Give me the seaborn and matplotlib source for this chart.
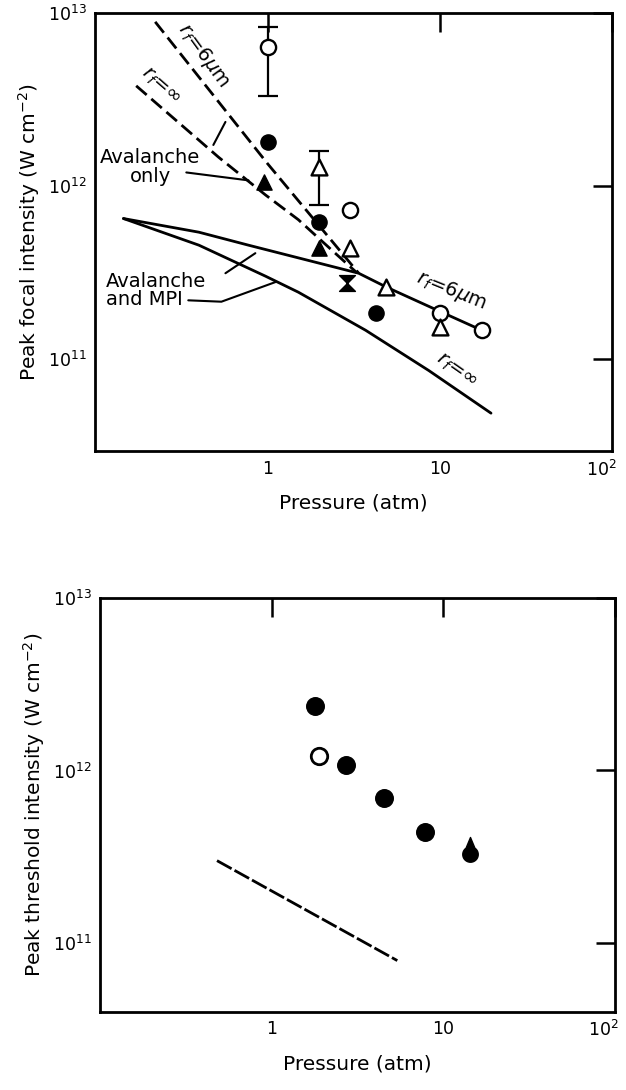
import numpy as np
import matplotlib
matplotlib.use("Agg")
import matplotlib.pyplot as plt
import matplotlib.transforms as mtransforms
import seaborn as sns
from matplotlib.path import Path
from matplotlib.ticker import NullLocator

# ---------------- data: top panel ----------------
open_circle_x = [1.0, 3.0, 10.0, 17.5]
open_circle_y = [6.4e12, 7.3e11, 1.85e11, 1.48e11]
filled_circle_x = [1.0, 2.0, 4.25]
filled_circle_y = [1.8e12, 6.2e11, 1.85e11]
filled_tri_x = [0.95, 2.0]
filled_tri_y = [1.05e12, 4.4e11]
open_tri_x = [2.0, 3.0, 4.9, 10.0]
open_tri_y = [1.29e12, 4.4e11, 2.6e11, 1.53e11]
hourglass_x = [2.9]
hourglass_y = [2.76e11]
err_x = [1.0, 2.0]
err_y = [6.4e12, 1.29e12]
err_lo = [3.3e12, 7.8e11]
err_hi = [8.3e12, 1.6e12]

# avalanche-only curves (dashed)
aval_6um_x = [0.223, 1.0, 3.38]
aval_6um_y = [8.9e12, 1.35e12, 3.14e11]
aval_inf_x = [0.173, 0.52, 0.973, 1.51, 2.36, 3.3]
aval_inf_y = [3.8e12, 1.47e12, 8.9e11, 6.4e11, 4.27e11, 3.16e11]
# avalanche + MPI curves (solid)
mpi_6um_x = [0.146, 0.4, 0.776, 3.38, 4.9, 10.0, 17.5]
mpi_6um_y = [6.5e11, 5.42e11, 4.56e11, 3.14e11, 2.61e11, 1.89e11, 1.47e11]
mpi_inf_x = [0.146, 0.4, 0.973, 1.51, 3.71, 8.63, 19.8]
mpi_inf_y = [6.5e11, 4.56e11, 3.02e11, 2.44e11, 1.47e11, 8.6e10, 4.88e10]

# ---------------- data: bottom panel ----------------
b_filled_x = [1.8, 2.7, 4.5, 7.8]
b_filled_y = [2.35e12, 1.07e12, 6.9e11, 4.4e11]
b_open_x = [1.89]
b_open_y = [1.22e12]
b_drop_x = [14.4]
b_drop_y = [3.3e11]
b_line_x = [0.48, 5.4]
b_line_y = [3.0e11, 7.9e10]

# ---------------- ticks / labels ----------------
x_ticks = [1, 10, 100]
x_tick_labels = ["1", "10", r"$10^2$"]
y_ticks = [1e11, 1e12, 1e13]
y_tick_labels = [r"$10^{11}$", r"$10^{12}$", r"$10^{13}$"]
x_label = "Pressure (atm)"
y_label_top = r"Peak focal intensity (W cm$^{-2}$)"
y_label_bot = r"Peak threshold intensity (W cm$^{-2}$)"

sns.set_style("white")
plt.rcParams["font.family"] = ["DejaVu Sans"]
plt.rcParams["mathtext.fontset"] = "dejavusans"
for k in ["text.color", "axes.labelcolor", "xtick.color", "ytick.color"]:
    plt.rcParams[k] = "black"

FS = 12.5      # tick labels
FL = 14.5      # axis labels
FA = 14        # annotations
LW = 2.0

# custom marker shapes
hourglass = Path([(-1, 1), (1, 1), (-1, -1), (1, -1), (-1, 1)],
                 [Path.MOVETO, Path.LINETO, Path.LINETO, Path.LINETO, Path.CLOSEPOLY])
ang = np.linspace(np.deg2rad(55), np.deg2rad(-235), 40)
drop_verts = [(0, 2.2)] + [(np.cos(a), np.sin(a)) for a in ang] + [(0, 2.2)]
teardrop = Path(drop_verts, [Path.MOVETO] + [Path.LINETO] * (len(drop_verts) - 2) + [Path.CLOSEPOLY])

fig = plt.figure(figsize=(6.26, 10.9), dpi=100)
ax1 = fig.add_axes([0.152, 0.586, 0.826, 0.402])
ax2 = fig.add_axes([0.160, 0.0716, 0.822, 0.3798])


def style_axes(ax, ylim, ylabel):
    ax.set_xscale("log")
    ax.set_yscale("log")
    ax.set_xlim(0.1, 100)
    ax.set_ylim(*ylim)
    ax.set_xticks(x_ticks)
    ax.set_xticklabels(x_tick_labels, fontsize=FS)
    ax.set_yticks(y_ticks)
    ax.set_yticklabels(y_tick_labels, fontsize=FS)
    ax.xaxis.set_minor_locator(NullLocator())
    ax.yaxis.set_minor_locator(NullLocator())
    ax.tick_params(which="major", direction="in", length=14, width=1.8,
                   top=True, right=True, pad=6, colors="black")
    for s in ax.spines.values():
        s.set_linewidth(2.0)
        s.set_color("black")
    ax.set_xlabel(x_label, fontsize=FL, labelpad=10)
    ax.set_ylabel(ylabel, fontsize=FL, labelpad=4)
    # keep the last x label (10^2) inside the figure
    last = ax.get_xticklabels()[-1]
    last.set_transform(last.get_transform() +
                       mtransforms.ScaledTranslation(-8 / 72, 0, fig.dpi_scale_trans))


style_axes(ax1, (2.94e10, 1e13), y_label_top)
style_axes(ax2, (3.98e10, 1e13), y_label_bot)

# ---------------- top panel ----------------
dash_top = (0, (5, 2.2))
sns.lineplot(x=aval_6um_x, y=aval_6um_y, ax=ax1, color="black", linewidth=LW,
             linestyle=dash_top, estimator=None, sort=False)
sns.lineplot(x=aval_inf_x, y=aval_inf_y, ax=ax1, color="black", linewidth=LW,
             linestyle=dash_top, estimator=None, sort=False)
sns.lineplot(x=mpi_6um_x, y=mpi_6um_y, ax=ax1, color="black", linewidth=LW,
             estimator=None, sort=False)
sns.lineplot(x=mpi_inf_x, y=mpi_inf_y, ax=ax1, color="black", linewidth=LW,
             estimator=None, sort=False)

ax1.errorbar(err_x, err_y,
             yerr=[np.array(err_y) - np.array(err_lo), np.array(err_hi) - np.array(err_y)],
             fmt="none", ecolor="black", elinewidth=1.6, capsize=7, capthick=1.6, zorder=2)

sns.scatterplot(x=open_circle_x, y=open_circle_y, ax=ax1, marker="o", s=120,
                color="white", edgecolor="black", linewidth=1.7, zorder=4)
sns.scatterplot(x=filled_circle_x, y=filled_circle_y, ax=ax1, marker="o", s=120,
                color="black", edgecolor="black", linewidth=1, zorder=4)
sns.scatterplot(x=filled_tri_x, y=filled_tri_y, ax=ax1, marker="^", s=120,
                color="black", edgecolor="black", linewidth=1, zorder=4)
sns.scatterplot(x=open_tri_x, y=open_tri_y, ax=ax1, marker="^", s=130,
                color="white", edgecolor="black", linewidth=1.7, zorder=4)
sns.scatterplot(x=hourglass_x, y=hourglass_y, ax=ax1, marker=hourglass, s=130,
                color="black", edgecolor="black", linewidth=1, zorder=4)

# annotations
ax1.text(0.425, 5.7e12, r"$r_f$=6$\mu$m", rotation=-54, fontsize=FA,
         ha="center", va="center", rotation_mode="anchor")
ax1.text(0.239, 3.79e12, r"$r_f$=$\infty$", rotation=-41, fontsize=FA,
         ha="center", va="center", rotation_mode="anchor")
ax1.text(0.209, 1.29e12, "Avalanche\nonly", fontsize=FA, ha="center", va="center",
         linespacing=0.95)
ax1.plot([0.485, 0.57], [1.73e12, 2.35e12], color="black", lw=1.5)
ax1.plot([0.338, 0.776], [1.2e12, 1.08e12], color="black", lw=1.5)
ax1.text(0.116, 2.5e11, "Avalanche\nand MPI", fontsize=FA, ha="left", va="center",
         linespacing=0.95)
ax1.plot([0.57, 0.85], [3.14e11, 4.1e11], color="black", lw=1.5)
ax1.plot([0.347, 0.54, 1.11], [2.19e11, 2.15e11, 2.79e11], color="black", lw=1.5)
ax1.text(11.6, 2.5e11, r"$r_f$=6$\mu$m", rotation=-22, fontsize=FA,
         ha="center", va="center", rotation_mode="anchor")
ax1.text(12.4, 8.6e10, r"$r_f$=$\infty$", rotation=-35, fontsize=FA,
         ha="center", va="center", rotation_mode="anchor")

# ---------------- bottom panel ----------------
sns.lineplot(x=b_line_x, y=b_line_y, ax=ax2, color="black", linewidth=LW,
             linestyle=(0, (6, 1.2)), estimator=None, sort=False)
sns.scatterplot(x=b_filled_x, y=b_filled_y, ax=ax2, marker="o", s=160,
                color="black", edgecolor="black", linewidth=1, zorder=4)
sns.scatterplot(x=b_open_x, y=b_open_y, ax=ax2, marker="o", s=140,
                color="white", edgecolor="black", linewidth=2, zorder=4)
sns.scatterplot(x=b_drop_x, y=b_drop_y, ax=ax2, marker=teardrop, s=600,
                color="black", edgecolor="black", linewidth=1, zorder=4)

fig.savefig("out.png", dpi=100)
